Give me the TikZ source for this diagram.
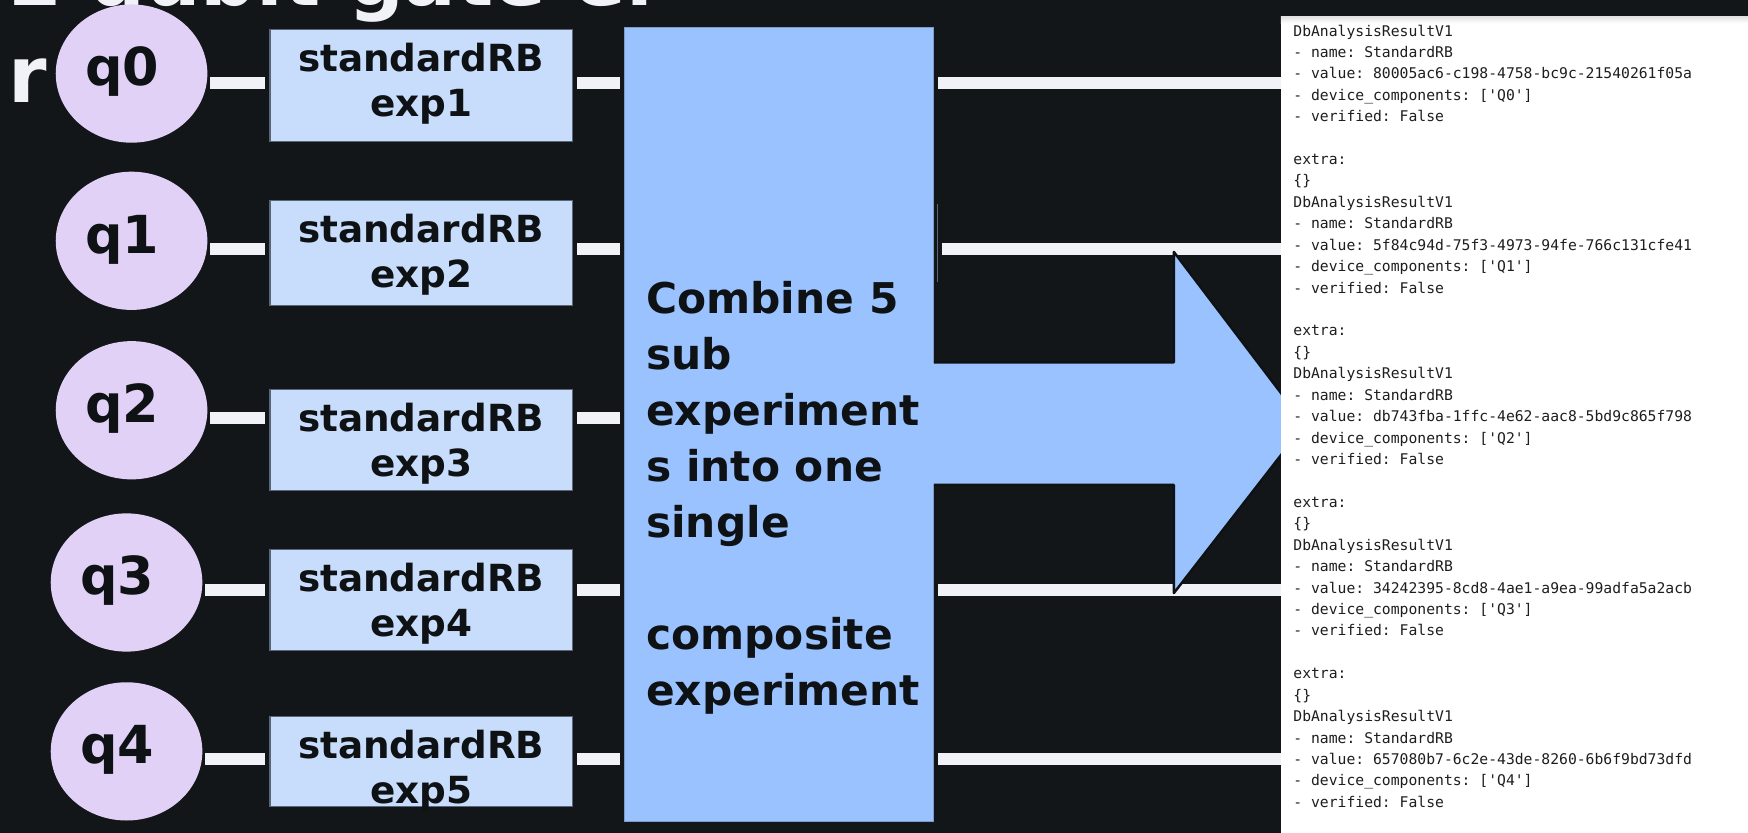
\documentclass[tikz,border=0pt]{standalone}
\usepackage{fontspec}
\setmainfont{DejaVu Sans}
\setmonofont{DejaVu Sans Mono}
\usetikzlibrary{shapes.geometric}

\definecolor{bgdark}{HTML}{131619}
\definecolor{wirecol}{HTML}{F0F2F7}
\definecolor{qubitfill}{HTML}{E1D1F6}
\definecolor{expfill}{HTML}{C8DDFC}
\definecolor{expedge}{HTML}{5A6678}
\definecolor{combfill}{HTML}{99C2FF}
\definecolor{combedge}{HTML}{7F9CC6}
\definecolor{inkdark}{HTML}{0F1215}
\definecolor{paneltext}{HTML}{1E1E1E}

\pgfdeclarelayer{back}
\pgfdeclarelayer{wires}
\pgfsetlayers{back,wires,main}

\tikzset{
  titletext/.style={anchor=base west, inner sep=0pt, text=wirecol,
    font=\fontsize{70}{84}\selectfont\bfseries},
  qubit/.style={ellipse, fill=qubitfill, minimum width=136pt,
    minimum height=124pt, inner sep=0pt},
  qlabel/.style={anchor=base, inner sep=0pt, text=inkdark,
    font=\fontsize{47}{56}\selectfont\bfseries},
  expbox/.style={rectangle, fill=expfill, draw=expedge, line width=1pt,
    minimum width=271.2pt, inner sep=0pt, anchor=north},
  exptext/.style={anchor=base, inner sep=0pt, text=inkdark,
    font=\fontsize{33.5}{40}\selectfont\bfseries},
  combbox/.style={rectangle, fill=combfill, draw=combedge, line width=0.8pt,
    inner sep=0pt, anchor=north west},
  combtext/.style={anchor=base west, inner sep=0pt, text=inkdark,
    font=\fontsize{38}{50}\selectfont\bfseries},
  wire/.style={draw=wirecol, line width=10.4pt, line cap=butt},
  panelbox/.style={rectangle, fill=white, inner sep=0pt, anchor=north west},
  restext/.style={anchor=base west, inner sep=0pt, text=paneltext,
    font=\ttfamily\fontsize{13.2}{16}\selectfont},
}

\begin{document}
\begin{tikzpicture}[x=1pt, y=-1pt]
  \begin{pgfonlayer}{back}
    \fill[bgdark] (0,0) rectangle (1568,747);
  \end{pgfonlayer}
  \useasboundingbox (0,0) rectangle (1568,747);

  % heading, clipped by the top edge
  \node[titletext] (title1) at (7,4.5) {2 qubit gate er};
  \node[titletext] (title2) at (7,92) {r};

  % row heights of the wires
  \coordinate (r0) at (0,74.3);
  \coordinate (r1) at (0,223.2);
  \coordinate (r2) at (0,375.1);
  \coordinate (r3) at (0,529.4);
  \coordinate (r4) at (0,681);
  \coordinate (pedge) at (1149,0);

  % qubits
  \foreach \i/\cx/\cy in {0/118/66, 1/118/216, 2/118/368, 3/113.5/522.5, 4/113.5/674} {
    \node[qubit] (q\i) at (\cx,\cy) {};
    \node[qlabel] (ql\i) at (\cx-8.5,\cy+11) {q\i};
  }

  % standardRB sub experiments
  \foreach \i/\top/\h in {1/26.3/99.9, 2/179.4/94.2, 3/349/90.5, 4/492.5/90.5, 5/642.3/80.7} {
    \node[expbox, minimum height=\h pt] (e\i) at (377.8,\top) {};
    \node[exptext] (s\i) at (377.8,\top+38) {standardRB};
    \node[exptext] (x\i) at (377.8,\top+78.5) {exp\i};
  }

  % composite experiment
  \node[combbox, minimum width=277.5pt, minimum height=712pt] (comb) at (559.7,24.2) {};
  \foreach \t [count=\k from 0] in {Combine 5, sub, experiment, s into one, single, , composite, experiment}
    \node[combtext] (ct\k) at (579.5,281+\k*50.3) {\t};

  % wires
  \begin{pgfonlayer}{wires}
    \foreach \i/\j in {0/1, 1/2, 2/3, 3/4, 4/5} {
      \draw[wire, shorten <=2.5pt, shorten >=3.6pt] (q\i.east |- r\i) -- (e\j.west |- r\i);
      \draw[wire, shorten <=3.9pt, shorten >=3.5pt] (e\j.east |- r\i) -- (comb.west |- r\i);
    }
    \foreach \i/\s in {0/3.4, 1/6.8, 3/3.4, 4/3.4}
      \draw[wire, shorten <=\s pt, shorten >=-6pt] (comb.east |- r\i) -- (pedge |- r\i);
  \end{pgfonlayer}
  \draw[draw=expedge, line width=0.8pt] (840.5,183) -- (840.5,253);

  % block arrow towards the results
  \fill[combfill] (835,325) -- (1053,325) -- (1053,226) -- (1170.4,380.7)
    -- (1053,532) -- (1053,435) -- (835,435) -- cycle;
  \draw[inkdark, line width=2.2pt, line join=round] (837.6,325) -- (1053,325)
    -- (1053,226) -- (1170.4,380.7) -- (1053,532) -- (1053,435) -- (837.6,435);

  % analysis results
  \node[panelbox, minimum width=419pt, minimum height=733pt] (panel) at (1149,14.4) {};
  \shade[top color=black!12, bottom color=white] (1149,14.4) rectangle (1568,21);
  \foreach \v/\q [count=\k from 0] in {
      80005ac6-c198-4758-bc9c-21540261f05a/Q0,
      5f84c94d-75f3-4973-94fe-766c131cfe41/Q1,
      db743fba-1ffc-4e62-aac8-5bd9c865f798/Q2,
      34242395-8cd8-4ae1-a9ea-99adfa5a2acb/Q3,
      657080b7-6c2e-43de-8260-6b6f9bd73dfd/Q4} {
    \pgfmathsetmacro\yb{32.3+\k*8*19.22}
    \node[restext] (rh\k) at (1160,\yb) {DbAnalysisResultV1};
    \node[restext] (rn\k) at (1160,\yb+19.22) {- name: StandardRB};
    \node[restext] (rv\k) at (1160,\yb+2*19.22) {- value: \v};
    \node[restext] (rd\k) at (1160,\yb+3*19.22) {- device\_components: ['\q']};
    \node[restext] (rf\k) at (1160,\yb+4*19.22) {- verified: False};
    \ifnum\k<4
      \node[restext] (re\k) at (1160,\yb+6*19.22) {extra:};
      \node[restext] (rb\k) at (1160,\yb+7*19.22) {\{\}};
    \fi
  }
\end{tikzpicture}
\end{document}
